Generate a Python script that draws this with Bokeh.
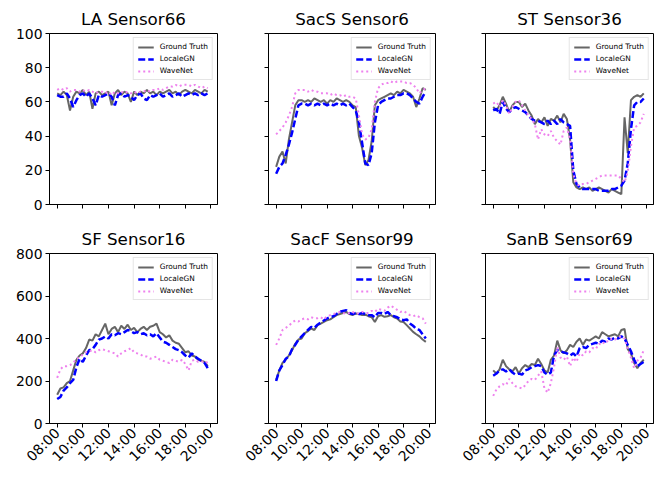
import math
from bokeh.plotting import figure
from bokeh.layouts import row, column
from bokeh.models import Range1d, FixedTicker
from bokeh.embed import file_html
from bokeh.resources import INLINE

# time axis: 15-minute samples from 08:00
times = [8 + 0.25 * i for i in range(48)]
tick_hours = [8, 10, 12, 14, 16, 18, 20]
tick_labels = ["08:00", "10:00", "12:00", "14:00", "16:00", "18:00", "20:00"]
top_yticks = [0, 20, 40, 60, 80, 100]
bottom_yticks = [0, 200, 400, 600, 800]

series_names = ["Ground Truth", "LocaleGN", "WaveNet"]
titles = ["LA Sensor66", "SacS Sensor6", "ST Sensor36",
          "SF Sensor16", "SacF Sensor99", "SanB Sensor69"]

la_gt = [65,64,66,64,55,63,66,65,67,64,66,56,65,66,64,65,66,58,65,67,64,66,65,60,66,64,66,65,67,65,66,64,66,65,66,67,65,66,64,66,67,66,65,67,66,65,67,66]
la_lgn = [64,63,63,65,62,57,61,64,65,63,65,62,58,64,63,64,65,63,58,64,65,63,64,63,61,64,65,62,61,64,63,64,65,63,64,65,63,64,65,63,64,65,64,65,64,65,64,65]
la_wn = [67,68,67,68,66,67,67,66,67,66,67,66,65,66,66,65,66,64,66,65,66,65,66,65,66,65,66,66,67,66,67,67,68,67,68,69,69,70,69,70,70,70,69,70,69,68,69,68]

sacs_gt = [22,28,31,24,38,48,58,61,61,60,61,60,62,61,60,61,59,61,60,62,61,60,61,60,58,57,40,33,23,26,37,58,61,62,63,64,65,64,66,65,67,66,65,63,57,62,68,67]
sacs_lgn = [18,22,24,29,35,42,50,58,59,59,58,59,58,59,58,59,58,59,58,59,58,59,58,59,57,55,48,36,24,23,30,48,58,60,61,62,62,63,64,64,65,65,64,62,60,59,63,66]
sacs_wn = [41,43,45,48,52,57,65,67,67,67,66,67,66,66,65,65,65,64,65,64,64,63,64,63,63,62,52,41,38,39,44,60,68,70,71,71,72,71,72,72,72,71,71,70,68,65,67,68]

st_gt = [57,55,58,63,59,54,58,60,60,57,59,55,52,47,50,48,51,46,50,49,52,48,53,50,38,13,10,9,10,9,10,8,9,10,9,8,7,9,8,7,6,51,30,61,63,64,63,65]
st_lgn = [55,56,53,60,56,54,56,57,56,55,54,52,50,49,49,48,47,49,47,49,47,50,48,47,46,20,12,10,9,9,9,9,9,8,8,8,8,9,9,10,11,14,24,44,58,60,60,62]
st_wn = [59,60,57,61,58,53,57,60,61,58,55,52,50,47,38,44,41,40,43,39,37,35,43,45,38,18,12,11,12,12,13,14,15,16,17,17,17,17,17,17,15,13,19,34,45,46,48,53]

sf_gt = [135,165,170,190,200,250,300,320,330,355,395,390,420,410,440,470,420,445,455,430,460,445,465,440,450,430,445,455,440,455,460,470,430,420,405,415,390,380,375,355,335,340,320,315,300,295,290,270]
sf_lgn = [115,125,155,170,190,205,265,305,290,320,345,350,370,395,400,410,400,420,415,425,420,430,440,435,425,430,420,425,415,420,410,425,405,385,380,370,360,350,345,335,320,310,330,315,305,295,285,260]
sf_wn = [215,255,270,270,275,285,305,310,325,335,340,345,335,345,350,345,340,335,330,315,330,340,345,355,335,330,325,315,315,305,310,315,300,295,290,285,300,295,290,300,280,250,295,300,290,290,295,285]

sacf_gt = [205,250,285,300,320,345,375,395,400,425,435,447,440,463,470,478,486,490,500,510,515,520,525,515,510,518,515,510,512,505,500,478,505,510,502,505,510,500,494,480,478,463,447,431,420,410,395,384]
sacf_lgn = [200,250,275,305,315,350,370,395,410,425,440,455,450,465,475,485,495,500,505,515,525,530,533,520,515,520,515,520,515,510,510,500,520,520,515,525,510,505,500,490,486,490,471,460,445,440,420,400]
sacf_wn = [370,400,440,450,460,475,485,480,490,495,490,500,495,495,500,490,505,510,515,520,525,520,515,520,525,515,520,525,520,520,530,525,540,535,530,545,555,545,535,525,530,520,510,505,510,500,495,470]

sanb_gt = [250,235,255,300,270,255,245,265,235,260,275,265,280,275,305,280,250,240,300,320,390,345,330,345,370,360,385,400,370,395,390,400,410,400,430,420,410,415,420,410,440,445,350,330,285,260,285,300]
sanb_lgn = [225,235,250,255,245,255,240,230,235,230,250,255,265,270,275,270,240,230,240,320,345,340,335,330,320,330,315,355,360,355,370,375,380,375,390,385,400,395,405,400,410,400,370,340,300,270,280,290]
sanb_wn = [130,160,175,185,180,210,190,175,170,165,180,200,210,205,225,245,165,145,190,265,360,310,300,315,270,310,290,330,320,340,335,355,350,375,370,390,385,400,395,405,410,400,350,310,260,295,310,345]

panel_data = [
    (la_gt, la_lgn, la_wn), (sacs_gt, sacs_lgn, sacs_wn), (st_gt, st_lgn, st_wn),
    (sf_gt, sf_lgn, sf_wn), (sacf_gt, sacf_lgn, sacf_wn), (sanb_gt, sanb_lgn, sanb_wn),
]

FONT = "DejaVu Sans"
col_frame_w = [168, 167, 168]
col_left = [49, 41, 40]
col_right = [10, 10, 3]
row_frame_h = [171, 170]
row_top = [33, 33]
row_bottom = [16, 55]

figs = []
for idx in range(6):
    r, c = divmod(idx, 3)
    top = (r == 0)
    ymax = 100 if top else 800
    yticks = top_yticks if top else bottom_yticks
    p = figure(frame_width=col_frame_w[c], frame_height=row_frame_h[r],
               min_border_left=col_left[c], min_border_right=col_right[c],
               min_border_top=row_top[r], min_border_bottom=row_bottom[r],
               x_range=Range1d(7.40, 20.51), y_range=Range1d(0, ymax),
               output_backend="svg", toolbar_location=None,
               background_fill_color="white", border_fill_color="white")
    p.title.text = titles[idx]
    p.title.align = "center"
    p.title.text_font = FONT
    p.title.text_font_size = "16.7px"
    p.title.text_font_style = "normal"
    p.title.text_color = "black"
    p.title.standoff = 10
    p.grid.visible = False
    p.outline_line_color = "black"
    p.outline_line_alpha = 1
    p.outline_line_width = 1

    gt, lgn, wn = panel_data[idx]
    p.line(times, gt, line_color="#666666", line_width=2, legend_label=series_names[0])
    p.line(times, lgn, line_color="blue", line_width=2.5, line_dash="7 3",
           legend_label=series_names[1])
    p.line(times, wn, line_color="violet", line_width=2, line_dash="2 3",
           legend_label=series_names[2])

    for ax in (p.xaxis[0], p.yaxis[0]):
        ax.axis_line_color = "black"
        ax.axis_line_width = 1
        ax.major_tick_line_color = "black"
        ax.major_tick_line_width = 1
        ax.major_tick_out = 4
        ax.major_tick_in = 0
        ax.minor_tick_out = 0
        ax.minor_tick_in = 0
        ax.major_label_text_font = FONT
        ax.major_label_text_font_size = "13.9px"
        ax.major_label_text_color = "black"
        ax.major_label_standoff = 3

    p.xaxis.ticker = FixedTicker(ticks=tick_hours)
    if top:
        p.xaxis.major_label_overrides = {h: "" for h in tick_hours}
    else:
        p.xaxis.major_label_overrides = dict(zip(tick_hours, tick_labels))
        p.xaxis.major_label_orientation = math.pi / 4
    p.yaxis.ticker = FixedTicker(ticks=yticks)
    if c > 0:
        p.yaxis.major_label_overrides = {t: "" for t in yticks}

    lg = p.legend[0]
    lg.location = "top_right"
    lg.label_text_font = FONT
    lg.label_text_font_size = "7.4px"
    lg.label_text_color = "black"
    lg.glyph_width = 16
    lg.glyph_height = 8
    lg.label_height = 8
    lg.label_standoff = 6
    lg.spacing = 3
    lg.padding = 4
    lg.margin = 4
    lg.border_line_color = "#cccccc"
    lg.border_line_width = 1
    lg.background_fill_alpha = 0.8
    figs.append(p)

layout = column(row(*figs[:3], spacing=0), row(*figs[3:], spacing=0), spacing=0)
open("out.html", "w").write(file_html(layout, INLINE))
